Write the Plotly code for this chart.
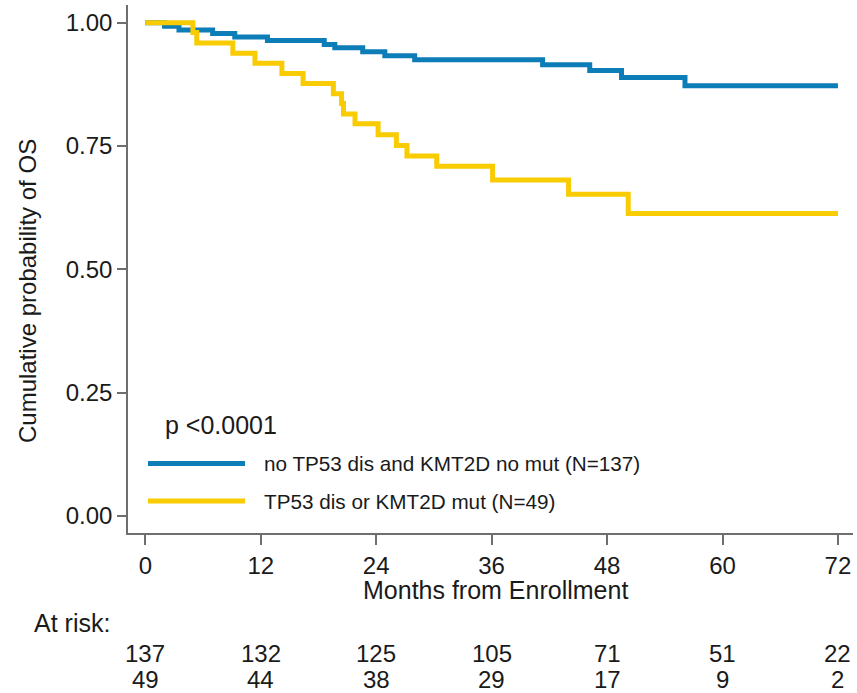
import plotly.graph_objects as go

# Kaplan-Meier step data (months, survival probability)
blue_t = [0, 2.0, 3.5, 7.0, 9.3, 12.7, 18.6, 19.7, 22.6, 24.9, 28.0, 41.3, 46.2, 49.5, 56.1, 72]
blue_s = [1.0, 0.993, 0.985, 0.978, 0.971, 0.964, 0.956, 0.949, 0.941, 0.933, 0.925, 0.915, 0.903, 0.889, 0.872, 0.872]

yel_t = [0, 4.95, 5.35, 9.1, 11.4, 14.2, 16.4, 19.55, 20.4, 20.6, 21.8, 24.2, 26.1, 27.2, 30.3, 36.1, 44.0, 50.2, 72]
yel_s = [1.0, 0.980, 0.959, 0.938, 0.918, 0.897, 0.877, 0.856, 0.836, 0.815, 0.795, 0.773, 0.751, 0.730, 0.709, 0.681, 0.652, 0.613, 0.613]

series_names = ["no TP53 dis and KMT2D no mut (N=137)", "TP53 dis or KMT2D mut (N=49)"]
x_ticks = [0, 12, 24, 36, 48, 60, 72]
y_ticks = [0.0, 0.25, 0.5, 0.75, 1.0]
y_tick_labels = ["0.00", "0.25", "0.50", "0.75", "1.00"]
risk_blue = [137, 132, 125, 105, 71, 51, 22]
risk_yel = [49, 44, 38, 29, 17, 9, 2]
p_text = "p <0.0001"

BLUE = "#0C7DB6"
YEL = "#F8CC00"
AXC = "#6E6E6E"
FONT = "Liberation Sans, Arial, sans-serif"

W, H = 857, 693
# plot area in window pixels
X0, X1, Y0, Y1 = 128, 853, 5, 533
L, R, T, B = X0, W - X1, Y0, H - Y1
pw = W - L - R
ph = H - T - B

def px(xpix):
    return (xpix - X0) / pw

def py(ypix):
    return (Y1 - ypix) / ph

# axis ranges from pixel calibration (0 month at 145.3 px, 9.62 px per month; y 1.0 at 22.7, 0 at 516)
xr = [(X0 - 145.3) / 9.62, (X1 - 145.3) / 9.62]
yr = [(516 - Y1) / 493.3, (516 - Y0) / 493.3]

fig = go.Figure()
fig.add_trace(go.Scatter(x=blue_t, y=blue_s, mode="lines", line=dict(color=BLUE, width=5, shape="hv"),
                         name=series_names[0], showlegend=False))
fig.add_trace(go.Scatter(x=yel_t, y=yel_s, mode="lines", line=dict(color=YEL, width=5, shape="hv"),
                         name=series_names[1], showlegend=False))

fig.update_layout(
    width=W, height=H,
    margin=dict(l=L, r=R, t=T, b=B, pad=0),
    paper_bgcolor="white", plot_bgcolor="white",
    font=dict(family=FONT, color="#1a1a1a", size=24),
    xaxis=dict(range=xr, tickvals=x_ticks, ticks="outside", ticklen=10, tickwidth=1.5,
               tickcolor=AXC, showline=True, linecolor=AXC, linewidth=1.5, showgrid=False,
               zeroline=False, tickfont=dict(size=24, family=FONT, color="#1a1a1a")),
    yaxis=dict(range=yr, tickvals=y_ticks, ticktext=y_tick_labels, ticks="outside",
               ticklen=9, tickwidth=1.5, tickcolor=AXC, showline=True, linecolor=AXC, linewidth=1.5,
               showgrid=False, zeroline=False, tickfont=dict(size=24, family=FONT, color="#1a1a1a")),
    showlegend=False,
)

# legend lines (paper coords)
for col, ypix in [(BLUE, 463.5), (YEL, 501)]:
    fig.add_shape(type="line", xref="paper", yref="paper", x0=px(148), x1=px(245), y0=py(ypix), y1=py(ypix),
                  line=dict(color=col, width=5))

ann = []
ann.append(dict(text=p_text, xref="paper", yref="paper", x=px(163), y=py(425), xanchor="left", yanchor="middle",
                showarrow=False, font=dict(size=25)))
for name, ypix in zip(series_names, [463.5, 501]):
    ann.append(dict(text=name, xref="paper", yref="paper", x=px(262), y=py(ypix), xanchor="left", yanchor="middle",
                    showarrow=False, font=dict(size=20.7)))
ann.append(dict(text="Months from Enrollment", xref="paper", yref="paper", x=px(495), y=0, yshift=-(590 - Y1),
                xanchor="center", yanchor="middle", showarrow=False, font=dict(size=25)))
ann.append(dict(text="Cumulative probability of OS", xref="paper", yref="paper", x=px(27), y=py(291),
                textangle=-90, xanchor="center", yanchor="middle", showarrow=False, font=dict(size=24)))
ann.append(dict(text="At risk:", xref="paper", yref="paper", x=px(32), y=0, yshift=-(623 - Y1),
                xanchor="left", yanchor="middle", showarrow=False, font=dict(size=25)))
for xv, a, b in zip(x_ticks, risk_blue, risk_yel):
    ann.append(dict(text=str(a), xref="x", yref="paper", x=xv, y=0, yshift=-(653 - Y1),
                    xanchor="center", yanchor="middle", showarrow=False, font=dict(size=24)))
    ann.append(dict(text=str(b), xref="x", yref="paper", x=xv, y=0, yshift=-(679 - Y1),
                    xanchor="center", yanchor="middle", showarrow=False, font=dict(size=24)))
fig.update_layout(annotations=ann)

# remove the default 8px page margin so the figure sits at the window's top-left corner
fig.write_html("out.html", config={"displayModeBar": False},
               post_script="document.body.style.margin='0px';")
